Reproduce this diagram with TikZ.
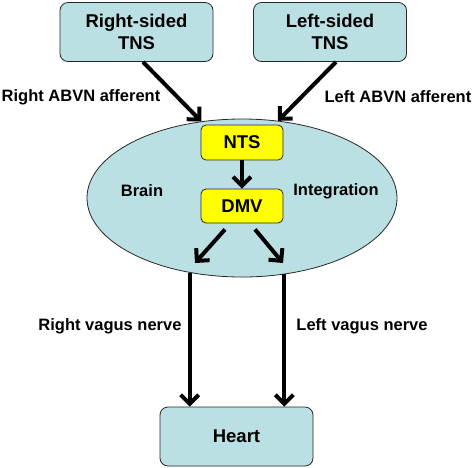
\documentclass[tikz,border=0pt]{standalone}
\usepackage{fontspec}
\setmainfont{Liberation Sans}
\usetikzlibrary{arrows.meta, shapes.geometric}
\definecolor{boxfill}{RGB}{187,224,227}
\definecolor{nucfill}{RGB}{255,255,0}
\definecolor{edge}{RGB}{40,40,40}
\tikzset{nerve/.style={line width=4pt, -{Straight Barb[length=9pt,width=18pt]}}}

\begin{document}
\begin{tikzpicture}[x=1pt, y=-1pt]

\useasboundingbox (0,0) rectangle (474,467);

\node[ellipse, draw=edge, thick, fill=boxfill, minimum width=310pt, minimum height=158pt, inner sep=0pt] (brain) at (242,198) {};

\begin{scope}[every node/.style={draw=edge, thick, fill=boxfill, rounded corners=8pt, align=center, font=\bfseries\fontsize{18.5}{22}\selectfont, minimum height=59pt, minimum width=153pt}]
    \node (RTNS) at (136.5,32) {Right-sided\\TNS};
    \node (LTNS) at (330,32) {Left-sided\\TNS};
    \node (Heart) at (236.5,436.5) {Heart};
    \node[fill=nucfill, minimum width=82pt, minimum height=35pt, rounded corners=5pt] (NTS) at (242,142.5) {NTS};
    \node[fill=nucfill, minimum width=82pt, minimum height=34pt, rounded corners=5pt] (DMV) at (242,206) {DMV};
\end{scope}

\begin{scope}[every node/.style={font=\bfseries\fontsize{16.5}{19}\selectfont}]
    \node (RABVN) at (81,97) {Right ABVN afferent};
    \node (LABVN) at (398,97) {Left ABVN afferent};
    \node (Brain) at (142,191) {Brain};
    \node (Integ) at (336,191) {Integration};
    \node (RVN) at (110,326) {Right vagus nerve};
    \node (LVN) at (362,326) {Left vagus nerve};
\end{scope}

\coordinate (rout) at (195,263);
\coordinate (lout) at (283,263);

\draw[nerve] ([xshift=6.5pt]RTNS.south)--(brain.118);
\draw[nerve] ([xshift=6pt]LTNS.south)--(brain.65);
\draw[nerve] (NTS)--(DMV);
\draw[nerve] ([xshift=-17pt,yshift=-6pt]DMV.south)--(rout);
\draw[nerve] ([xshift=13pt,yshift=-6pt]DMV.south)--(lout);
\draw[nerve] (brain.235)--(brain.235 |- Heart.north);
\draw[nerve] (brain.299)--(brain.299 |- Heart.north);

\end{tikzpicture}
\end{document}
